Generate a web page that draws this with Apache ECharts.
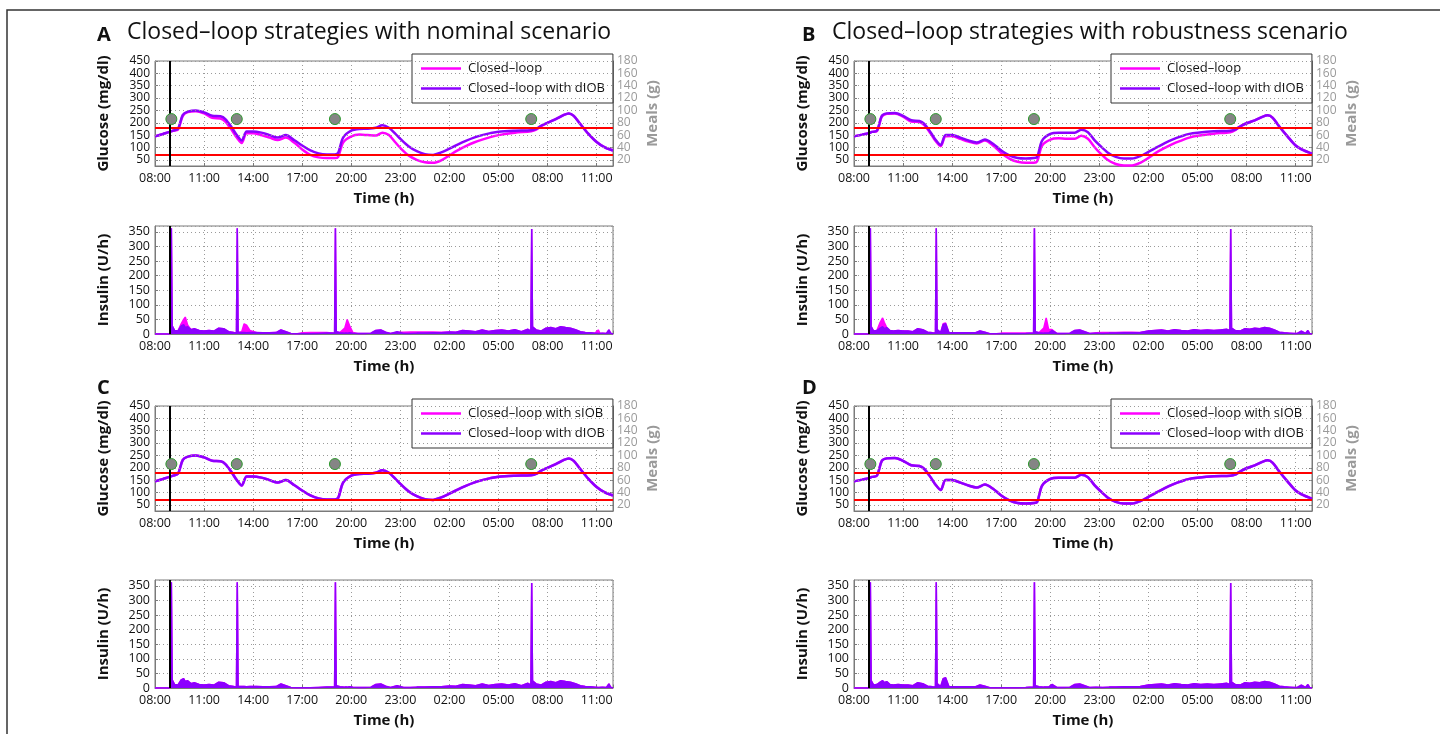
<!DOCTYPE html>
<html>
<head>
<meta charset="utf-8">
<script src="https://cdn.jsdelivr.net/npm/echarts@6/dist/echarts.min.js"></script>
<style>
html,body{margin:0;padding:0;background:#fff;}
#chart{width:1440px;height:734px;}
</style>
</head>
<body>
<div id="chart"></div>
<script>
// ---------- DATA ----------
const START = 8; // axis starts at 08:00 (clock hours; next day = +24)
const timeTickLabels = ['08:00','11:00','14:00','17:00','20:00','23:00','02:00','05:00','08:00','11:00'];
const glucoseTicks = [50,100,150,200,250,300,350,400,450];
const mealTicks = [20,40,60,80,100,120,140,160,180];
const glucoseTargets = [180, 70];
const cgmStartClock = 8.93;

const mealClock = [9, 13, 19, 31];
const mealGrams = [86, 86, 86, 86];

const glucoseClock = [8,8.5,8.9,9.1,9.4,9.7,10,10.5,11,11.5, 12,12.3,12.7,13.0,13.3,13.6,14,14.5,15,15.5,
  16,16.5,17,17.5,18,18.5,19,19.2,19.5,20, 20.5,21,21.5,21.9,22.3,22.7,23,23.5,24,24.5,
  25,25.5,26,26.5,27,27.5,28,28.5,29,30, 31,31.3,31.6,32,32.5,33,33.3,33.6,34,34.5, 35,35.5,36];

const glucoseNominalCL = [145,155,163,168,172,228,243,247,238,220, 217,205,170,140,118,158,158,150,140,130,
  140,120,92,70,60,57,57,62,120,145, 152,150,148,160,150,120,98,68,50,40,
  38,48,68,88,105,120,132,142,150,160, 166,172,186,200,215,232,238,228,195,155, 122,100,88];
const glucoseNominalDIOB = [145,155,163,168,175,232,245,250,242,228, 226,215,180,150,128,165,165,160,150,140,
  150,130,108,88,76,72,72,78,140,168, 175,176,180,190,180,155,135,105,85,73,
  70,80,95,112,127,140,150,158,164,168, 170,175,188,200,215,232,238,228,195,155, 122,100,88];
const glucoseRobustCL = [145,152,158,163,166,225,236,238,225,205, 203,190,155,125,105,145,146,135,124,116,
  128,108,78,55,42,38,38,44,108,132, 137,135,135,147,135,102,80,50,33,27,
  27,38,58,80,98,115,128,140,147,156, 162,170,185,198,210,225,230,220,185,145, 108,88,75];
const glucoseRobustDIOB = [145,152,158,163,168,228,238,240,228,210, 207,195,160,130,110,150,150,140,128,120,
  132,115,88,68,57,55,57,62,128,155, 160,160,160,172,162,130,110,80,62,55,
  55,65,82,100,118,133,145,155,160,166, 168,172,185,198,210,225,230,220,185,145, 108,88,75];

const insulinClock = [8.0,8.9,8.95,9.0,9.05,9.2,9.4,9.6,9.75,9.85, 10.0,10.2,10.4,10.7,11.0,11.3,11.6,11.9,12.2,12.5,
  12.8,12.98,13.03,13.08,13.3,13.45,13.6,13.8,14.2,14.6, 15.0,15.4,15.7,16.0,16.3,16.7,17.0,17.5,18.0,18.5,
  18.98,19.03,19.08,19.3,19.6,19.75,19.9,20.1,20.4,20.8, 21.2,21.5,21.8,22.1,22.4,22.8,23.2,23.6,24.0,24.5,
  25.0,25.5,26.0,26.4,26.8,27.2,27.6,28.0,28.4,28.8, 29.2,29.6,30.0,30.4,30.8,30.98,31.03,31.08,31.3,31.6,
  31.9,32.2,32.5,32.8,33.1,33.4,33.7,34.0,34.3,34.6, 34.9,35.1,35.2,35.35,35.6,35.75,35.85,36.0];

const insulinNominalCL = [0,0,0,362,28,12,10,35,50,58, 30,15,18,12,10,12,10,20,18,8,
  5,3,362,5,8,35,30,12,5,4, 4,5,14,8,2,1,4,5,5,5,
  3,362,8,5,20,50,28,5,2,2, 3,12,14,6,2,6,6,7,7,7,
  7,6,7,6,12,10,8,14,9,12, 14,10,15,8,16,10,360,25,14,10,
  20,22,18,25,22,20,15,8,5,4, 3,14,2,3,2,14,3,0];
const insulinNominalDIOB = [0,0,0,362,28,12,10,28,32,22, 25,15,18,12,10,12,10,20,18,8,
  5,3,362,5,5,5,4,5,5,4, 4,5,14,8,2,1,1,1,2,3,
  3,362,8,4,3,3,4,3,2,2, 3,12,14,6,2,8,2,2,3,3,
  4,4,7,6,12,10,8,14,9,12, 14,10,15,8,16,10,360,25,14,10,
  20,22,18,25,22,20,15,8,5,4, 3,2,2,3,2,14,3,0];
const insulinRobustCL = [0,0,0,362,25,10,12,40,55,40, 22,12,10,12,10,10,8,18,15,6,
  4,3,362,15,5,35,38,5,4,4, 4,4,10,6,1,1,3,3,3,3,
  3,362,8,4,20,55,15,15,2,2, 3,12,14,8,2,4,5,5,5,6,
  6,5,10,12,14,10,15,12,10,15, 12,14,12,14,16,12,360,20,12,10,
  18,16,20,18,22,20,14,6,4,3, 2,2,2,10,2,12,2,0];
const insulinRobustDIOB = [0,0,0,362,25,10,12,20,25,18, 22,12,10,12,10,10,8,18,15,6,
  4,3,362,15,5,32,35,5,4,4, 4,4,10,6,1,1,1,1,1,2,
  3,362,8,4,3,3,3,12,2,2, 3,12,14,8,2,3,2,3,3,4,
  4,5,10,12,14,10,15,12,10,15, 12,14,12,14,16,12,360,20,12,10,
  18,16,20,18,22,20,14,6,4,3, 2,2,2,10,2,12,2,0];

// ---------- STYLE / LAYOUT ----------
const FONT = 'Open Sans';
const MAG = '#ff00ff', PUR = '#8c00ff';
const colLeft = [155, 854];
const plotW = 458;
const rowTop = [{g:61, i:226}, {g:406, i:580}];
const gH = 105, iH = 108;
const toPts = (clock, vals) => clock.map((c, i) => [c - START, vals[i]]);

const panels = [
  {col:0,row:0, letter:'A', title:'Closed\u2013loop strategies with nominal scenario',
   g:[['Closed\u2013loop', MAG, glucoseNominalCL], ['Closed\u2013loop with dIOB', PUR, glucoseNominalDIOB]],
   ins:[[MAG, insulinNominalCL], [PUR, insulinNominalDIOB]]},
  {col:1,row:0, letter:'B', title:'Closed\u2013loop strategies with robustness scenario',
   g:[['Closed\u2013loop', MAG, glucoseRobustCL], ['Closed\u2013loop with dIOB', PUR, glucoseRobustDIOB]],
   ins:[[MAG, insulinRobustCL], [PUR, insulinRobustDIOB]]},
  {col:0,row:1, letter:'C', title:'',
   g:[['Closed\u2013loop with sIOB', MAG, glucoseNominalDIOB], ['Closed\u2013loop with dIOB', PUR, glucoseNominalDIOB]],
   ins:[[MAG, insulinNominalDIOB], [PUR, insulinNominalDIOB]]},
  {col:1,row:1, letter:'D', title:'',
   g:[['Closed\u2013loop with sIOB', MAG, glucoseRobustDIOB], ['Closed\u2013loop with dIOB', PUR, glucoseRobustDIOB]],
   ins:[[MAG, insulinRobustDIOB], [PUR, insulinRobustDIOB]]}
];

const grid = [], xAxis = [], yAxis = [], series = [], legend = [], title = [];
const axisGray = '#7a7a7a';
const dotted = {type:[1,3], color:'#9a9a9a', width:1};
const LBL = 12, NAME = 15;

function xAx(gi){
  return {gridIndex:gi, type:'value', min:0, max:28, interval:3,
    axisLine:{show:true, lineStyle:{color:axisGray}},
    axisTick:{show:true, inside:true, length:3, lineStyle:{color:axisGray}},
    axisLabel:{color:'#111', fontSize:12.5, fontFamily:FONT, margin:6, hideOverlap:false,
      formatter:v => (v % 3 === 0 && timeTickLabels[v/3] !== undefined) ? timeTickLabels[v/3] : ''},
    splitLine:{show:true, lineStyle:dotted},
    name:'Time (h)', nameLocation:'middle', nameGap:25,
    nameTextStyle:{fontWeight:'bold', fontSize:NAME, color:'#111', fontFamily:FONT}};
}
const yLabel = (extra) => Object.assign({color:'#111', fontSize:LBL, fontFamily:FONT, margin:5,
  hideOverlap:false, showMinLabel:true, showMaxLabel:true}, extra);

panels.forEach((p, k) => {
  const left = colLeft[p.col], r = rowTop[p.row];
  const gG = 2*k, gI = 2*k+1, yG = 3*k, yM = 3*k+1, yI = 3*k+2;
  grid.push({left, top:r.g, width:plotW, height:gH, show:true, borderColor:axisGray, borderWidth:1});
  grid.push({left, top:r.i, width:plotW, height:iH, show:true, borderColor:axisGray, borderWidth:1});
  xAxis.push(xAx(gG)); xAxis.push(xAx(gI));
  yAxis.push({gridIndex:gG, type:'value', min:25, max:450, position:'left',
    axisLine:{show:true, lineStyle:{color:axisGray}},
    axisTick:{show:true, inside:true, length:3, customValues:glucoseTicks, lineStyle:{color:axisGray}},
    axisLabel:yLabel({customValues:glucoseTicks}),
    splitLine:{show:false},
    name:'Glucose (mg/dl)', nameLocation:'middle', nameRotate:90, nameGap:44,
    nameTextStyle:{fontWeight:'bold', fontSize:NAME, color:'#111', fontFamily:FONT}});
  yAxis.push({gridIndex:gG, type:'value', min:10, max:180, position:'right',
    axisLine:{show:true, lineStyle:{color:axisGray}},
    axisTick:{show:true, inside:true, length:3, customValues:mealTicks, lineStyle:{color:axisGray}},
    axisLabel:yLabel({customValues:mealTicks, color:'#9a9a9a', margin:4}),
    splitLine:{show:false},
    name:'Meals (g)', nameLocation:'middle', nameRotate:90, nameGap:32,
    nameTextStyle:{fontWeight:'bold', fontSize:NAME, color:'#9a9a9a', fontFamily:FONT}});
  yAxis.push({gridIndex:gI, type:'value', min:0, max:370, interval:50, position:'left',
    axisLine:{show:true, lineStyle:{color:axisGray}},
    axisTick:{show:true, inside:true, length:3, lineStyle:{color:axisGray}},
    axisLabel:yLabel({formatter:v => v <= 350 ? v : '', fontSize:12.5, showMaxLabel:false}),
    splitLine:{show:true, lineStyle:dotted},
    name:'Insulin (U/h)', nameLocation:'middle', nameRotate:90, nameGap:44,
    nameTextStyle:{fontWeight:'bold', fontSize:NAME, color:'#111', fontFamily:FONT}});

  // glucose dotted grid lines
  series.push({type:'line', name:'grid'+k, xAxisIndex:gG, yAxisIndex:yG, data:[], silent:true, z:0,
    markLine:{symbol:'none', silent:true, label:{show:false}, lineStyle:dotted, animation:false,
      data:glucoseTicks.map(v => ({yAxis:v}))}});
  // glucose curves
  p.g.forEach((s, j) => {
    series.push({type:'line', name:s[0], xAxisIndex:gG, yAxisIndex:yG, data:toPts(glucoseClock, s[2]),
      symbol:'none', smooth:0.3, lineStyle:{color:s[1], width:2.5}, itemStyle:{color:s[1]}, z:2+j});
  });
  // target lines + CGM start line
  series.push({type:'line', name:'targets'+k, xAxisIndex:gG, yAxisIndex:yG, data:[], silent:true, z:5,
    markLine:{symbol:'none', silent:true, label:{show:false}, animation:false,
      data:[...glucoseTargets.map(v => ({yAxis:v, lineStyle:{color:'#ff0000', width:2, type:'solid'}})),
            {xAxis:cgmStartClock - START, lineStyle:{color:'#000', width:2, type:'solid'}}]}});
  // meals
  series.push({type:'scatter', name:'Meals'+k, xAxisIndex:gG, yAxisIndex:yM, data:toPts(mealClock, mealGrams),
    symbolSize:11, itemStyle:{color:'#858585', borderColor:'#2e9a2e', borderWidth:1, opacity:1}, z:10});
  // insulin
  p.ins.forEach((s, j) => {
    series.push({type:'line', name:'insulin'+k+'_'+j, xAxisIndex:gI, yAxisIndex:yI, data:toPts(insulinClock, s[1]),
      symbol:'none', lineStyle:{color:s[0], width:1.5}, areaStyle:{color:s[0], opacity:1}, itemStyle:{color:s[0]}, z:2+j});
  });
  series.push({type:'line', name:'start'+k, xAxisIndex:gI, yAxisIndex:yI, data:[], silent:true, z:5,
    markLine:{symbol:'none', silent:true, label:{show:false}, animation:false,
      data:[{xAxis:cgmStartClock - START, lineStyle:{color:'#000', width:2, type:'solid'}}]}});

  legend.push({orient:'vertical', left:left + plotW - 201, top:r.g - 7, data:[p.g[0][0], p.g[1][0]],
    icon:'rect', backgroundColor:'#fff', borderColor:'#333', borderWidth:1, padding:[8,8,8,9], itemGap:7,
    itemWidth:40, itemHeight:2.5, selectedMode:false,
    textStyle:{fontSize:13, fontFamily:FONT, color:'#111', padding:[0,0,0,2]}});

  const letterLeft = p.col === 0 ? 97 : 802;
  const dy = p.row === 0 ? 0 : 353;
  title.push({left:letterLeft, top:25 + dy, padding:0, text:p.letter,
    textStyle:{fontSize:20, fontWeight:'bold', color:'#111', fontFamily:FONT}});
  if (p.title) title.push({left:letterLeft + 30, top:21 + dy, padding:0, text:p.title,
    textStyle:{fontSize:23, fontWeight:'normal', color:'#111', fontFamily:FONT}});
});

const chart = echarts.init(document.getElementById('chart'), null, {renderer:'canvas'});
chart.setOption({
  animation:false,
  backgroundColor:'#fff',
  textStyle:{fontFamily:FONT},
  title, legend, grid, xAxis, yAxis, series,
  graphic:[{type:'rect', shape:{x:7, y:10, width:1500, height:800}, style:{fill:'none', stroke:'#333', lineWidth:1.5}, silent:true}]
});
</script>
</body>
</html>
